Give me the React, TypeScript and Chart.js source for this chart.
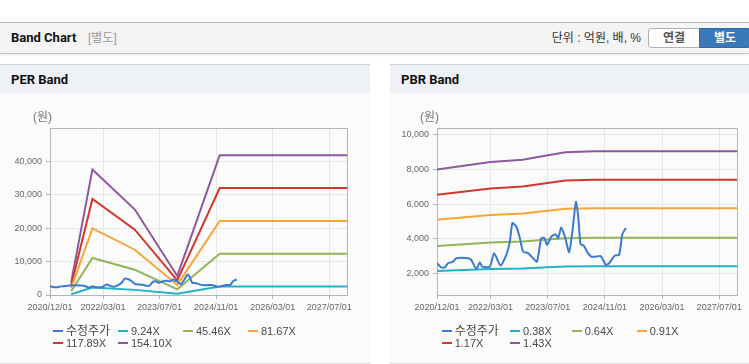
import React, { useEffect, useRef } from 'react';
import { Chart, registerables } from 'chart.js';

Chart.register(...registerables);

// ---------- data ----------
const X_MAX_MONTHS = 84; // months after 2020/12/01
const xTickMonths = [0, 15, 31, 47, 63, 79];
const xTickLabels = ['2020/12/01', '2022/03/01', '2023/07/01', '2024/11/01', '2026/03/01', '2027/07/01'];

// adjusted share price (수정주가), month offsets from 2020/12/01
const priceMonths = [0, 1.2, 2.2, 3.1, 4.5, 5.4, 8.7, 9.6, 11, 12, 12.7, 14.8, 16, 17.8, 19.4, 20.4, 21.1, 22.2, 23.2, 24.1, 25.5, 26.9, 28, 29.2, 30.1, 30.8, 32, 33.2, 33.9, 34.8, 35.8, 37, 37.9, 38.9, 39.5, 40.2, 41.1, 42, 43.2, 44.6, 45.8, 46.5, 47.3, 48.2, 49.8, 51, 51.9, 52.9];
const priceValues = [2600, 2330, 2330, 2580, 2670, 2870, 2870, 2770, 2250, 2620, 2380, 2380, 3160, 2440, 3060, 3830, 4900, 4700, 4030, 3250, 3160, 2870, 2670, 4030, 4030, 3640, 4120, 4260, 4030, 4640, 4120, 3220, 4410, 6120, 5380, 3680, 3600, 3250, 2960, 2960, 2990, 2770, 2480, 2580, 3020, 3060, 4260, 4610];

// PER band
const perLabels = ['수정주가', '9.24X', '45.46X', '81.67X', '117.89X', '154.10X'];
const perBandMonths = [6, 12, 24, 36, 48, 84];
const per924 = [231, 2255, 1534, 342, 2509, 2509];
const per4546 = [1137, 11092, 7546, 1682, 12342, 12342];
const per8167 = [2042, 19927, 13557, 3022, 22173, 22173];
const per11789 = [2947, 28765, 19570, 4362, 32007, 32007];
const per15410 = [3853, 37600, 25581, 5702, 41838, 41838];
const perYTicks = [0, 10000, 20000, 30000, 40000];
const perYMin = 0;
const perYMax = 50000;

// PBR band
const pbrLabels = ['수정주가', '0.38X', '0.64X', '0.91X', '1.17X', '1.43X'];
const pbrBandMonths = [0, 15, 24, 31, 36, 44, 84];
const pbr038 = [2126, 2242, 2277, 2344, 2392, 2405, 2405];
const pbr064 = [3580, 3775, 3836, 3948, 4028, 4051, 4051];
const pbr091 = [5091, 5368, 5454, 5613, 5728, 5759, 5759];
const pbr117 = [6545, 6902, 7012, 7217, 7364, 7405, 7405];
const pbr143 = [8000, 8436, 8570, 8820, 9000, 9050, 9050];
const pbrYTicks = [2000, 4000, 6000, 8000, 10000];
const pbrYMin = 740;
const pbrYMax = 10400;

const seriesColors = ['#3a7bd0', '#22b2c7', '#93b558', '#f5a636', '#d2372b', '#8f589e'];

// ---------- helpers ----------
const toPoints = (xs: number[], ys: number[]) => xs.map((x, i) => ({ x, y: ys[i] }));
const fmt = (v: number) => String(v).replace(/\B(?=(\d{3})+(?!\d))/g, ',');
const TICK_FONT = '"Liberation Sans", Arial, sans-serif';
const KR_FONT = '"Liberation Sans", Arial, "Noto Sans CJK KR", sans-serif';

const framePlugin = {
  id: 'frame',
  afterDraw(chart: any) {
    const { ctx, chartArea } = chart;
    ctx.save();
    ctx.strokeStyle = '#b4b4b4';
    ctx.lineWidth = 1;
    ctx.beginPath();
    ctx.moveTo(Math.round(chartArea.left) + 0.5, Math.round(chartArea.top) + 0.5);
    ctx.lineTo(Math.round(chartArea.right) + 0.5, Math.round(chartArea.top) + 0.5);
    ctx.lineTo(Math.round(chartArea.right) + 0.5, Math.round(chartArea.bottom) + 0.5);
    ctx.stroke();
    ctx.fillStyle = '#777';
    ctx.font = '12px ' + KR_FONT;
    ctx.textAlign = 'left';
    ctx.textBaseline = 'middle';
    ctx.fillText('(원)', chartArea.left - 17, chartArea.top - 10);
    ctx.restore();
  },
};

type BandProps = {
  labels: string[];
  series: { x: number; y: number }[][];
  yMin: number;
  yMax: number;
  yTicks: number[];
  width: number;
  height: number;
  yAxisWidth: number;
  padRight: number;
  padBottom: number;
};

function BandChart(p: BandProps) {
  const ref = useRef<HTMLCanvasElement | null>(null);
  useEffect(() => {
    if (!ref.current) return;
    const chart = new Chart(ref.current, {
      type: 'line',
      data: {
        datasets: p.series.map((s, i) => ({
          label: p.labels[i],
          data: s,
          borderColor: seriesColors[i],
          backgroundColor: seriesColors[i],
          borderWidth: 2,
          pointRadius: 0,
          pointHoverRadius: 0,
          tension: i === 0 ? 0.2 : 0,
          fill: false,
        })),
      },
      options: {
        animation: false,
        responsive: false,
        maintainAspectRatio: false,
        events: [],
        layout: { padding: { left: 0, top: 35, right: p.padRight, bottom: p.padBottom } },
        plugins: { legend: { display: false }, tooltip: { enabled: false }, title: { display: false } },
        scales: {
          x: {
            type: 'linear',
            min: 0,
            max: X_MAX_MONTHS,
            afterBuildTicks: (s: any) => {
              s.ticks = xTickMonths.map((v) => ({ value: v }));
            },
            afterFit: (s: any) => {
              s.height = 20;
            },
            grid: { color: '#e6e6e6', tickColor: '#b4b4b4', tickLength: 4 },
            border: { color: '#b4b4b4' },
            ticks: {
              autoSkip: false,
              maxRotation: 0,
              padding: 3,
              color: '#666',
              font: { family: TICK_FONT, size: 9 },
              callback: (v: any) => {
                const idx = xTickMonths.indexOf(Number(v));
                return idx >= 0 ? xTickLabels[idx] : '';
              },
            },
          },
          y: {
            type: 'linear',
            min: p.yMin,
            max: p.yMax,
            afterBuildTicks: (s: any) => {
              s.ticks = p.yTicks.map((v) => ({ value: v }));
            },
            afterFit: (s: any) => {
              s.width = p.yAxisWidth;
            },
            grid: { color: '#e6e6e6', tickColor: '#b4b4b4', tickLength: 4 },
            border: { color: '#b4b4b4' },
            ticks: {
              padding: 4,
              color: '#666',
              font: { family: TICK_FONT, size: 9 },
              callback: (v: any) => fmt(Number(v)),
            },
          },
        },
      },
      plugins: [framePlugin],
    } as any);
    return () => chart.destroy();
  }, []);
  return <canvas ref={ref} width={p.width} height={p.height} style={{ width: p.width, height: p.height, display: 'block' }} />;
}

function Legend({ labels, cols, rows, left }: { labels: string[]; cols: number[]; rows: number[]; left: number }) {
  return (
    <>
      {labels.map((l, i) => {
        const x = cols[i % 4] - left;
        const y = rows[Math.floor(i / 4)];
        const korean = /[\uac00-\ud7a3]/.test(l);
        return (
          <div key={i} style={{ position: 'absolute', left: x, top: y - 7, height: 14, whiteSpace: 'nowrap' }}>
            <span style={{ position: 'absolute', left: 0, top: 6, width: 10, height: 2, background: seriesColors[i] }} />
            <span style={{ position: 'absolute', left: 13, top: 0, lineHeight: '14px', fontSize: korean ? 12 : 11, color: '#4a4a4a', fontFamily: KR_FONT }}>{l}</span>
          </div>
        );
      })}
    </>
  );
}

function Panel({ left, width, title, children }: { left: number; width: number; title: string; children?: React.ReactNode }) {
  return (
    <div style={{ position: 'absolute', left, top: 64, width, height: 300, boxSizing: 'border-box', background: '#fbfbfb', borderBottom: '1px solid #dcdcdc' }}>
      <div style={{ position: 'absolute', left: 0, top: 0, width, height: 29, boxSizing: 'border-box', borderTop: '1px solid #d2d2d2', background: '#eef1f6' }}>
        <span style={{ position: 'absolute', left: 11, top: 7, lineHeight: '16px', fontSize: 13, fontWeight: 'bold', color: '#111', fontFamily: 'Roboto, "Noto Sans CJK KR", sans-serif' }}>{title}</span>
      </div>
      {children}
    </div>
  );
}

export default function App() {
  const perSeries = [
    toPoints(priceMonths, priceValues),
    toPoints(perBandMonths, per924),
    toPoints(perBandMonths, per4546),
    toPoints(perBandMonths, per8167),
    toPoints(perBandMonths, per11789),
    toPoints(perBandMonths, per15410),
  ];
  const pbrSeries = [
    toPoints(priceMonths, priceValues),
    toPoints(pbrBandMonths, pbr038),
    toPoints(pbrBandMonths, pbr064),
    toPoints(pbrBandMonths, pbr091),
    toPoints(pbrBandMonths, pbr117),
    toPoints(pbrBandMonths, pbr143),
  ];
  return (
    <div style={{ position: 'absolute', left: 0, top: 0, width: 749, height: 364, overflow: 'hidden', background: '#fff' }}>
      {/* header */}
      <div style={{ position: 'absolute', left: 0, top: 22, width: 749, height: 32, boxSizing: 'border-box', borderTop: '1px solid #b8b8b8', borderBottom: '1px solid #c4c4c4', background: '#f4f4f4', boxShadow: '0 1px 3px rgba(0,0,0,0.10)' }}>
        <span style={{ position: 'absolute', left: 11, top: 7, lineHeight: '16px', fontSize: 13, fontWeight: 'bold', color: '#111', fontFamily: 'Roboto, sans-serif' }}>Band Chart</span>
        <span style={{ position: 'absolute', left: 88, top: 7, lineHeight: '16px', fontSize: 12, color: '#999', fontFamily: KR_FONT }}>[별도]</span>
        <span style={{ position: 'absolute', right: 108, top: 7, lineHeight: '16px', fontSize: 12, color: '#333', fontFamily: KR_FONT }}>단위 : 억원, 배, %</span>
        <div style={{ position: 'absolute', left: 648, top: 5, width: 52, height: 20, boxSizing: 'border-box', border: '1px solid #b0b0b0', borderRadius: '3px 0 0 3px', background: '#fff', textAlign: 'center', lineHeight: '18px', fontSize: 12, fontWeight: 'bold', color: '#555', fontFamily: KR_FONT }}>연결</div>
        <div style={{ position: 'absolute', left: 699, top: 5, width: 52, height: 20, boxSizing: 'border-box', border: '1px solid #2f6aa8', borderRadius: '0 3px 3px 0', background: '#3b78b7', textAlign: 'center', lineHeight: '18px', fontSize: 12, fontWeight: 'bold', color: '#fff', fontFamily: KR_FONT }}>별도</div>
      </div>

      <Panel left={0} width={370} title="PER Band">
        <div style={{ position: 'absolute', left: 0, top: 29 }}>
          <BandChart labels={perLabels} series={perSeries} yMin={perYMin} yMax={perYMax} yTicks={perYTicks} width={370} height={268} yAxisWidth={50} padRight={23} padBottom={46} />
        </div>
        <Legend labels={perLabels} cols={[53, 118, 183, 248]} rows={[330.7 - 64, 343.3 - 64]} left={0} />
      </Panel>

      <Panel left={390} width={359} title="PBR Band">
        <div style={{ position: 'absolute', left: 0, top: 29 }}>
          <BandChart labels={pbrLabels} series={pbrSeries} yMin={pbrYMin} yMax={pbrYMax} yTicks={pbrYTicks} width={359} height={268} yAxisWidth={47} padRight={12} padBottom={46} />
        </div>
        <Legend labels={pbrLabels} cols={[441.7, 510, 571.7, 636.7]} rows={[330.7 - 64, 343.3 - 64]} left={390} />
      </Panel>
    </div>
  );
}
